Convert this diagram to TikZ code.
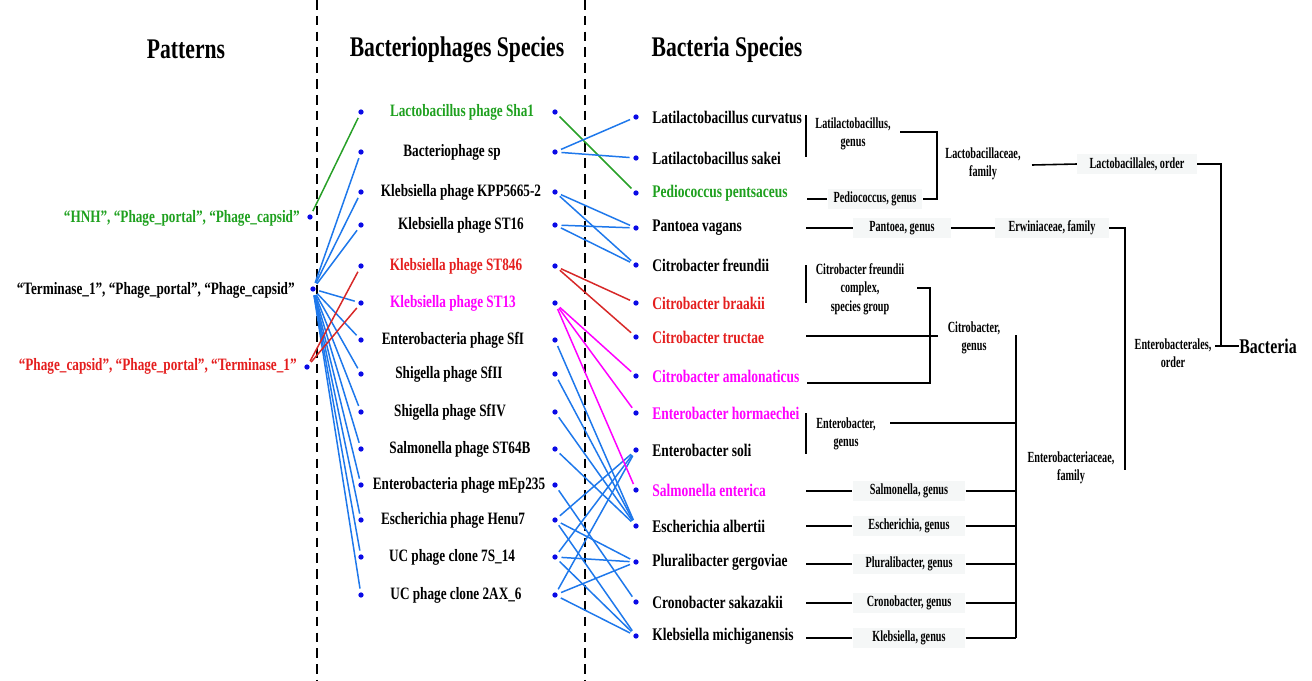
\documentclass[tikz,border=0pt]{standalone}
\usepackage{fontspec}
\setmainfont{Liberation Serif}[FakeStretch=0.76]
\newfontfamily\taxfont{Liberation Serif}[FakeStretch=0.66]
\definecolor{linkblue}{RGB}{30,120,235}
\definecolor{linkgreen}{RGB}{40,160,40}
\definecolor{linkred}{RGB}{215,40,40}
\definecolor{linkpink}{RGB}{255,0,255}
\definecolor{txtgreen}{RGB}{30,160,30}
\definecolor{txtred}{RGB}{228,30,30}
\definecolor{txtpink}{RGB}{255,0,255}
\definecolor{dotblue}{RGB}{10,10,230}
\definecolor{boxgray}{RGB}{245,247,247}
\begin{document}
\begin{tikzpicture}[x=0.02cm,y=-0.02cm,
  dot/.style={circle,fill=dotblue,inner sep=0pt,minimum size=3pt},
  title/.style={font=\fontsize{16.2}{18}\selectfont\bfseries,inner sep=0pt},
  phage/.style={font=\fontsize{9.9}{11}\selectfont\bfseries,inner sep=0pt},
  bact/.style={font=\fontsize{10.1}{12}\selectfont\bfseries,inner sep=0pt,anchor=west},
  pattern/.style={font=\fontsize{9.9}{11}\selectfont\bfseries,inner sep=0pt,anchor=east},
  taxo/.style={font=\taxfont\bfseries\fontsize{8.8}{10.5}\selectfont,inner sep=1pt,align=center},
  genbox/.style={taxo,fill=boxgray,minimum height=11pt},
  link/.style={line width=0.85pt,linkblue,shorten <=2pt,shorten >=2pt},
  tree/.style={line width=0.9pt},
  divider/.style={line width=0.8pt,dash pattern=on 5.5pt off 3.5pt}]
  \useasboundingbox (0,0) rectangle (1312,680);
  \draw[divider] (317,0) -- (317,680);
  \draw[divider] (585,0) -- (585,680);
  \node[title] (tPat) at (186,49) {Patterns};
  \node[title] (tPha) at (457,50) {Bacteriophages Species};
  \node[title] (tBac) at (727,50) {Bacteria Species};

  \node[dot] (pH) at (310,217) {};
  \node[dot] (pT) at (313,289) {};
  \node[dot] (pP) at (307,367) {};
  \node[pattern,text=txtgreen] (lH) at (300,218) {“HNH”, “Phage\_portal”, “Phage\_capsid”};
  \node[pattern] (lT) at (295,290) {“Terminase\_1”, “Phage\_portal”, “Phage\_capsid”};
  \node[pattern,text=txtred] (lP) at (297,366) {“Phage\_capsid”, “Phage\_portal”, “Terminase\_1”};

  \foreach \i/\x/\y/\txt/\col in {
    1/462/112/Lactobacillus phage Sha1/txtgreen,
    2/452/152/Bacteriophage sp/black,
    3/461/192/Klebsiella phage KPP5665-2/black,
    4/461/225/Klebsiella phage ST16/black,
    5/456/266/Klebsiella phage ST846/txtred,
    6/453/303/Klebsiella phage ST13/txtpink,
    7/453/340/Enterobacteria phage SfI/black,
    8/449/374/Shigella phage SfII/black,
    9/450/412/Shigella phage SfIV/black,
    10/460/449/Salmonella phage ST64B/black,
    11/459/485/Enterobacteria phage mEp235/black,
    12/453/520/Escherichia phage Henu7/black,
    13/452/557/UC phage clone 7S\_14/black,
    14/456/595/UC phage clone 2AX\_6/black}{
    \node[dot] (pl\i) at (361,\y) {};
    \node[dot] (pr\i) at (555,\y) {};
    \node[phage,text=\col] (ph\i) at (\x,\y) {\txt};
  }

  \foreach \i/\y/\txt/\col in {
    1/117/Latilactobacillus curvatus/black,
    2/158/Latilactobacillus sakei/black,
    3/193/Pediococcus pentsaceus/txtgreen,
    4/228/Pantoea vagans/black,
    5/265/Citrobacter freundii/black,
    6/303/Citrobacter braakii/txtred,
    7/337/Citrobacter tructae/txtred,
    8/376/Citrobacter amalonaticus/txtpink,
    9/413/Enterobacter hormaechei/txtpink,
    10/450/Enterobacter soli/black,
    11/490/Salmonella enterica/txtpink,
    12/526/Escherichia albertii/black,
    13/562/Pluralibacter gergoviae/black,
    14/602/Cronobacter sakazakii/black,
    15/636/Klebsiella michiganensis/black}{
    \node[dot] (bd\i) at (636,\y) {};
    \node[bact,text=\col] (bs\i) at (652,\y) {\txt};
  }

  \draw[link,linkgreen] (pH) -- (pl1);
  \foreach \j in {2,3,4,6,7,8,9,10,11,12,13,14}
    \draw[link] (pT) -- (pl\j);
  \foreach \j in {5,6}
    \draw[link,linkred] (pP) -- (pl\j);

  \draw[link,linkgreen] (pr1) -- (bd3);
  \foreach \a/\b in {2/1,2/2,3/4,3/5,4/4,4/5,7/12,8/12,9/12,10/12,11/14,
    12/10,12/13,12/15,13/10,13/13,13/15,14/10,14/13,14/15}
    \draw[link] (pr\a) -- (bd\b);
  \foreach \b in {6,7}
    \draw[link,linkred] (pr5) -- (bd\b);
  \foreach \b in {8,9,11}
    \draw[link,linkpink] (pr6) -- (bd\b);

  \node[taxo] (gLati) at (853,134) {Latilactobacillus,\\genus};
  \node[genbox,minimum width=54pt] (gPedi) at (875,199) {Pediococcus, genus};
  \node[taxo] (fLact) at (983,164) {Lactobacillaceae,\\family};
  \node[genbox,minimum width=68pt] (oLact) at (1137,164) {Lactobacillales, order};
  \node[genbox,minimum width=55.6pt] (gPant) at (902,228) {Pantoea, genus};
  \node[genbox,minimum width=65pt] (fErwi) at (1052,228) {Erwiniaceae, family};
  \node[taxo] (gCfsg) at (860,289) {Citrobacter freundii\\complex,\\species group};
  \node[taxo] (gCitr) at (974,338) {Citrobacter,\\genus};
  \node[taxo] (gEntb) at (846,434) {Enterobacter,\\genus};
  \node[taxo] (fEntb) at (1071,468) {Enterobacteriaceae,\\family};
  \node[taxo] (oEntb) at (1173,353) {Enterobacterales,\\order};
  \node[font=\fontsize{11.9}{14}\selectfont\bfseries,inner sep=0pt,anchor=west] (root) at (1239,346) {Bacteria};
  \foreach \n/\y/\txt in {Salm/491/Salmonella, Esch/526/Escherichia, Plur/564/Pluralibacter,
    Cron/603/Cronobacter, Kleb/638/Klebsiella}{
    \node[genbox,minimum width=64pt] (g\n) at (909,\y) {\txt, genus};
    \draw[tree] (806,\y) -- (g\n.west);
    \draw[tree] (g\n.east) -- (1016,\y);
  }

  \draw[tree] (806,115) -- (806,157);
  \draw[tree] (900,132) -- (937,132) -- (937,199) -- (gPedi.east);
  \draw[tree] (807,199) -- (gPedi.west);
  \draw[tree] (1032,165) -- (oLact.west);
  \draw[tree] (oLact.east) -- (1221,164) -- (1221,346);
  \draw[tree] (1215,346) -- (root.west);
  \draw[tree] (806,228) -- (gPant.west);
  \draw[tree] (gPant.east) -- (fErwi.west);
  \draw[tree] (fErwi.east) -- (1125,228) -- (1125,470);
  \draw[tree] (806,265) -- (806,303);
  \draw[tree] (917,288) -- (930,288) -- (930,383) -- (807,383);
  \draw[tree] (806,336) -- (938,336);
  \draw[tree] (1016,335) -- (1016,638);
  \draw[tree] (806,413) -- (806,454);
  \draw[tree] (890,423) -- (1016,423);
\end{tikzpicture}
\end{document}
